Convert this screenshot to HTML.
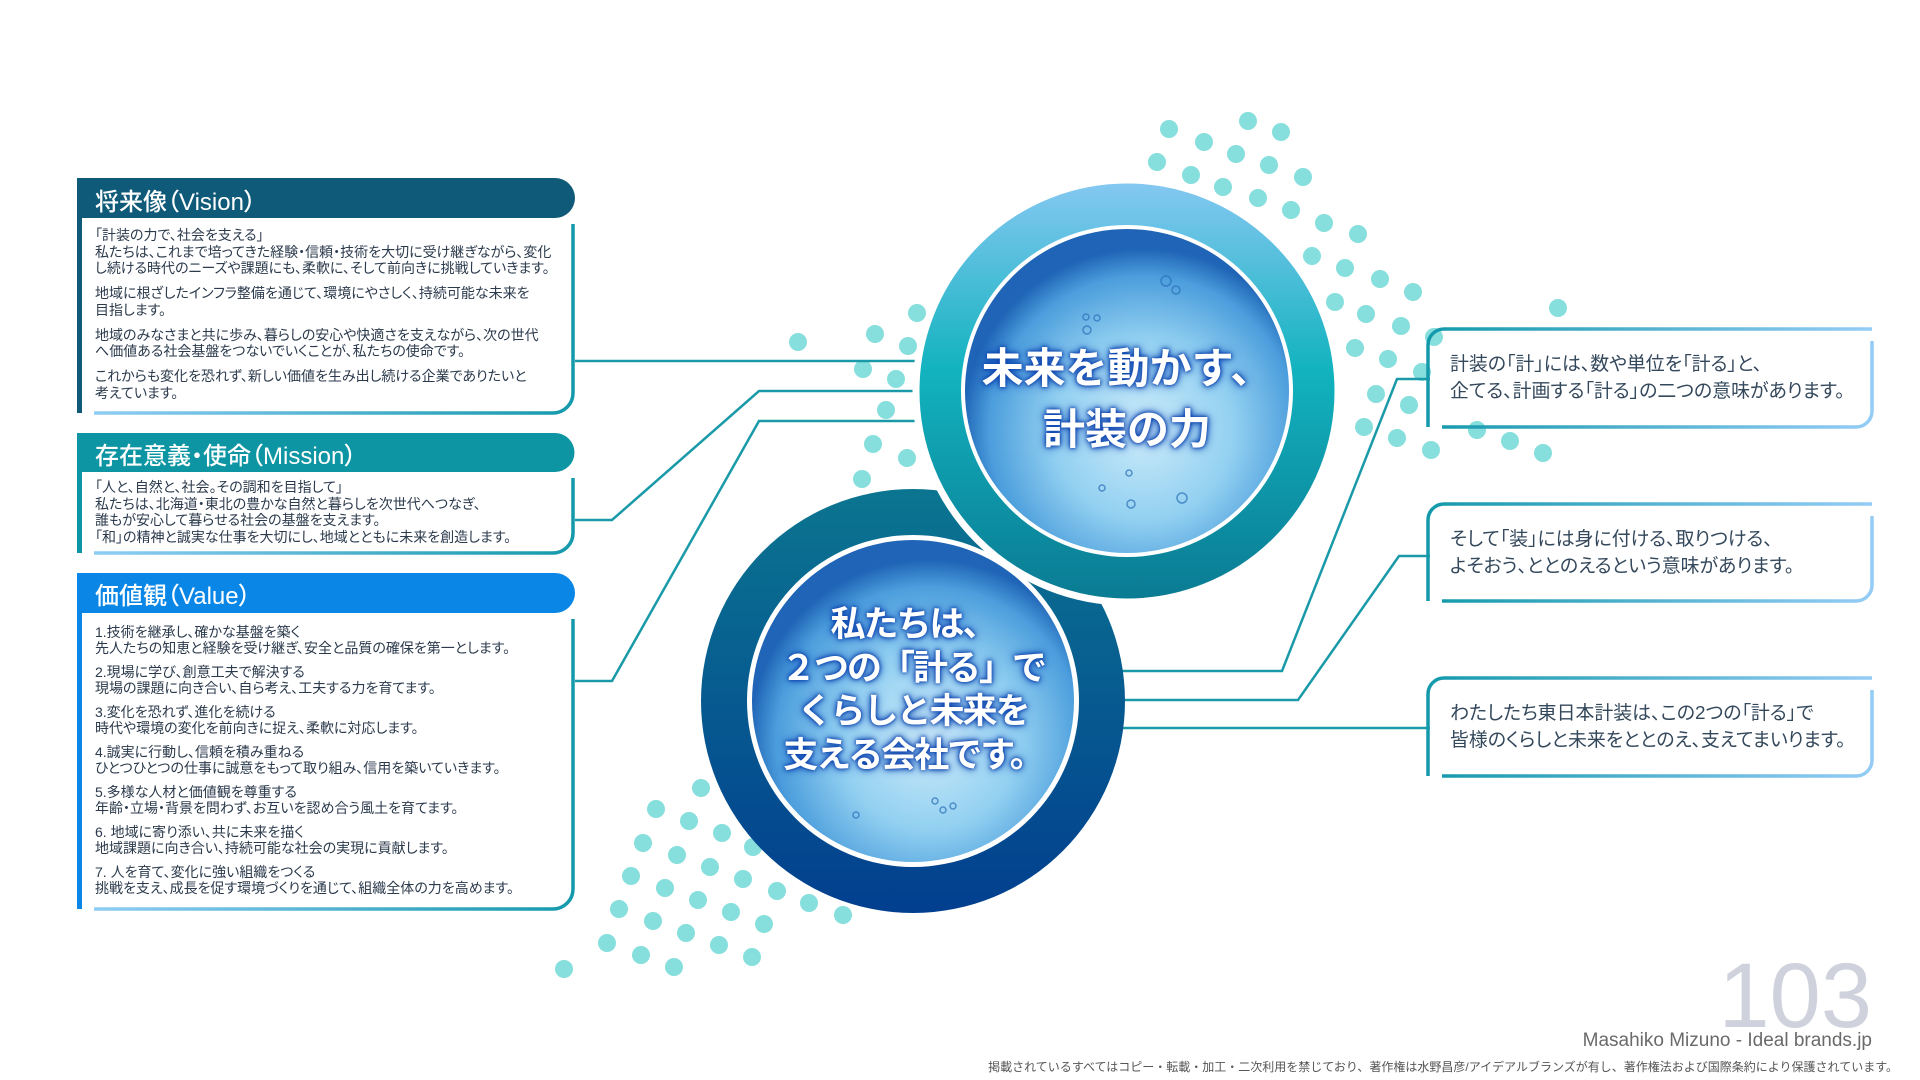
<!DOCTYPE html>
<html><head><meta charset="utf-8"><style>
html,body{margin:0;padding:0;background:#fff}
#p{position:relative;width:1920px;height:1080px;overflow:hidden;font-family:"Liberation Sans","Noto Sans CJK JP",sans-serif}
svg{position:absolute;left:0;top:0}
.t{position:absolute;white-space:nowrap;color:#2b3a4c;font-feature-settings:"palt"}
.h{position:absolute;color:#fff;font-size:24px;font-weight:500;white-space:nowrap;font-feature-settings:"palt"}
.b{font-size:14px;line-height:16.7px}
.b p{margin:0 0 8px 0}
.r{font-size:18.9px;line-height:27px;color:#34485c}
.c{position:absolute;color:#fff;font-weight:bold;text-align:center;white-space:nowrap;text-shadow:0 0 6px #0a3fa8,0 0 10px #1454c0,0 0 3px #0a3fa8}
</style></head><body><div id="p">
<svg width="1920" height="1080" viewBox="0 0 1920 1080">
<defs>
<linearGradient id="lg" gradientUnits="userSpaceOnUse" x1="94" y1="0" x2="573" y2="0"><stop offset="0" stop-color="#8fcdf3"/><stop offset="1" stop-color="#1499ab"/></linearGradient>
<linearGradient id="rg" gradientUnits="userSpaceOnUse" x1="1428" y1="0" x2="1872" y2="0"><stop offset="0" stop-color="#1499ab"/><stop offset="1" stop-color="#94ccf5"/></linearGradient>
<linearGradient id="ring1" x1="0" y1="0" x2="0" y2="1"><stop offset="0" stop-color="#86c8f2"/><stop offset="0.45" stop-color="#12b3bf"/><stop offset="1" stop-color="#0a7a92"/></linearGradient>
<linearGradient id="ring2" x1="0" y1="0" x2="0" y2="1"><stop offset="0" stop-color="#0b7590"/><stop offset="1" stop-color="#023f8f"/></linearGradient>
<radialGradient id="bub" cx="0.55" cy="0.62" r="0.56"><stop offset="0" stop-color="#cdebf9"/><stop offset="0.5" stop-color="#92d0f1"/><stop offset="0.85" stop-color="#4b9ddc"/><stop offset="1" stop-color="#1f64b6"/></radialGradient>
</defs>
<g fill="#86dfdc">
<circle cx="701" cy="788" r="9"/><circle cx="656" cy="809" r="9"/><circle cx="689" cy="821" r="9"/><circle cx="722" cy="833" r="9"/><circle cx="753" cy="847" r="9"/>
<circle cx="643" cy="843" r="9"/><circle cx="677" cy="855" r="9"/><circle cx="710" cy="867" r="9"/><circle cx="743" cy="879" r="9"/><circle cx="777" cy="891" r="9"/><circle cx="809" cy="903" r="9"/><circle cx="843" cy="915" r="9"/>
<circle cx="631" cy="876" r="9"/><circle cx="665" cy="888" r="9"/><circle cx="698" cy="900" r="9"/><circle cx="731" cy="912" r="9"/><circle cx="764" cy="924" r="9"/>
<circle cx="619" cy="909" r="9"/><circle cx="653" cy="921" r="9"/><circle cx="686" cy="933" r="9"/><circle cx="719" cy="945" r="9"/><circle cx="752" cy="957" r="9"/>
<circle cx="607" cy="943" r="9"/><circle cx="641" cy="955" r="9"/><circle cx="674" cy="967" r="9"/><circle cx="564" cy="969" r="9"/>
<circle cx="1169" cy="129" r="9"/><circle cx="1204" cy="142" r="9"/><circle cx="1248" cy="121" r="9"/><circle cx="1281" cy="132" r="9"/>
<circle cx="1157" cy="162" r="9"/><circle cx="1191" cy="175" r="9"/><circle cx="1236" cy="154" r="9"/><circle cx="1269" cy="165" r="9"/><circle cx="1303" cy="177" r="9"/>
<circle cx="1223" cy="187" r="9"/><circle cx="1258" cy="198" r="9"/><circle cx="1291" cy="210" r="9"/><circle cx="1324" cy="223" r="9"/><circle cx="1358" cy="234" r="9"/>
<circle cx="1312" cy="256" r="9"/><circle cx="1345" cy="268" r="9"/><circle cx="1380" cy="279" r="9"/><circle cx="1413" cy="292" r="9"/>
<circle cx="1335" cy="302" r="9"/><circle cx="1366" cy="314" r="9"/><circle cx="1401" cy="326" r="9"/><circle cx="1434" cy="337" r="9"/>
<circle cx="1355" cy="348" r="9"/><circle cx="1388" cy="359" r="9"/><circle cx="1422" cy="372" r="9"/>
<circle cx="1376" cy="394" r="9"/><circle cx="1409" cy="405" r="9"/>
<circle cx="1364" cy="427" r="9"/><circle cx="1397" cy="438" r="9"/><circle cx="1431" cy="450" r="9"/>
<circle cx="1558" cy="308" r="9"/><circle cx="1543" cy="453" r="9"/><circle cx="1510" cy="441" r="9"/><circle cx="1477" cy="430" r="9"/>
<circle cx="798" cy="342" r="9"/><circle cx="875" cy="334" r="9"/><circle cx="917" cy="313" r="9"/><circle cx="908" cy="346" r="9"/><circle cx="863" cy="369" r="9"/><circle cx="896" cy="379" r="9"/><circle cx="886" cy="410" r="9"/><circle cx="873" cy="444" r="9"/><circle cx="907" cy="458" r="9"/><circle cx="862" cy="479" r="9"/>
</g>
<g fill="none" stroke="#1a9aa8" stroke-width="2.5">
<path d="M575 361 H935"/>
<path d="M575 520 H612 L759 391 H935"/>
<path d="M575 681 H612 L759 421 H935"/>
<path d="M1110 671 H1282 L1397 379 H1430"/>
<path d="M1110 700 H1298 L1399 556 H1430"/>
<path d="M1110 728 H1430"/>
</g>
<path d="M77 178 H555 A20 20 0 0 1 555 218 H77 Z" fill="#0f5a78"/>
<rect x="77" y="218" width="5" height="195" fill="#0f5a78"/>
<path d="M573 224 V393 A20 20 0 0 1 553 413 H94" fill="none" stroke="url(#lg)" stroke-width="3.5"/>
<path d="M77 433 H555 A19.5 19.5 0 0 1 555 472 H77 Z" fill="#0d95a3"/>
<rect x="77" y="472" width="5" height="81" fill="#0d95a3"/>
<path d="M573 478 V533 A20 20 0 0 1 553 553 H94" fill="none" stroke="url(#lg)" stroke-width="3.5"/>
<path d="M77 573 H555 A20 20 0 0 1 555 613 H77 Z" fill="#0a87e6"/>
<rect x="77" y="613" width="5" height="296" fill="#0a87e6"/>
<path d="M573 619 V889 A20 20 0 0 1 553 909 H94" fill="none" stroke="url(#lg)" stroke-width="3.5"/>
<g fill="none" stroke="url(#rg)" stroke-width="3.5">
<path d="M1428 427 V345 A16 16 0 0 1 1444 329 H1872"/><path d="M1872 341 V411 A16 16 0 0 1 1856 427 H1442"/>
<path d="M1428 601 V520 A16 16 0 0 1 1444 504 H1872"/><path d="M1872 516 V585 A16 16 0 0 1 1856 601 H1442"/>
<path d="M1428 776 V694 A16 16 0 0 1 1444 678 H1872"/><path d="M1872 690 V760 A16 16 0 0 1 1856 776 H1442"/>
</g>
<circle cx="913" cy="701" r="212" fill="url(#ring2)"/>
<circle cx="1127" cy="391" r="211" fill="url(#ring1)" stroke="#fff" stroke-width="7"/>
<circle cx="1127" cy="391" r="166" fill="#fff"/>
<circle cx="1127" cy="391" r="162" fill="url(#bub)"/>
<circle cx="913" cy="701" r="166" fill="#fff"/>
<circle cx="913" cy="701" r="161" fill="url(#bub)"/>
<g fill="none" stroke="#2a6fb8" stroke-width="1.5" opacity="0.7">
<circle cx="1166" cy="281" r="5"/><circle cx="1176" cy="290" r="4"/><circle cx="1097" cy="318" r="3"/><circle cx="1086" cy="317" r="3"/><circle cx="1087" cy="330" r="4"/>
<circle cx="1131" cy="504" r="4"/><circle cx="1102" cy="488" r="3"/><circle cx="1129" cy="473" r="3"/><circle cx="1182" cy="498" r="5"/>
<circle cx="953" cy="806" r="3"/><circle cx="935" cy="801" r="3"/><circle cx="943" cy="810" r="3"/><circle cx="856" cy="815" r="3"/>
</g>
</svg>

<div class="h" style="left:95px;top:182px">将来像（Vision）</div>
<div class="t b" style="left:95px;top:227px">
<p>「計装の力で、社会を支える」<br>私たちは、これまで培ってきた経験・信頼・技術を大切に受け継ぎながら、変化<br>し続ける時代のニーズや課題にも、柔軟に、そして前向きに挑戦していきます。</p>
<p>地域に根ざしたインフラ整備を通じて、環境にやさしく、持続可能な未来を<br>目指します。</p>
<p>地域のみなさまと共に歩み、暮らしの安心や快適さを支えながら、次の世代<br>へ価値ある社会基盤をつないでいくことが、私たちの使命です。</p>
<p>これからも変化を恐れず、新しい価値を生み出し続ける企業でありたいと<br>考えています。</p>
</div>

<div class="h" style="left:95px;top:436px">存在意義・使命（Mission）</div>
<div class="t b" style="left:95px;top:479px">「人と、自然と、社会。その調和を目指して」<br>私たちは、北海道・東北の豊かな自然と暮らしを次世代へつなぎ、<br>誰もが安心して暮らせる社会の基盤を支えます。<br>「和」の精神と誠実な仕事を大切にし、地域とともに未来を創造します。</div>

<div class="h" style="left:95px;top:576px">価値観（Value）</div>
<div class="t b" style="left:95px;top:624px;line-height:16px">
<p>1.技術を継承し、確かな基盤を築く<br>先人たちの知恵と経験を受け継ぎ、安全と品質の確保を第一とします。</p>
<p>2.現場に学び、創意工夫で解決する<br>現場の課題に向き合い、自ら考え、工夫する力を育てます。</p>
<p>3.変化を恐れず、進化を続ける<br>時代や環境の変化を前向きに捉え、柔軟に対応します。</p>
<p>4.誠実に行動し、信頼を積み重ねる<br>ひとつひとつの仕事に誠意をもって取り組み、信用を築いていきます。</p>
<p>5.多様な人材と価値観を尊重する<br>年齢・立場・背景を問わず、お互いを認め合う風土を育てます。</p>
<p>6. 地域に寄り添い、共に未来を描く<br>地域課題に向き合い、持続可能な社会の実現に貢献します。</p>
<p>7. 人を育て、変化に強い組織をつくる<br>挑戦を支え、成長を促す環境づくりを通じて、組織全体の力を高めます。</p>
</div>

<div class="t r" style="left:1450px;top:351px">計装の「計」には、数や単位を「計る」と、<br>企てる、計画する「計る」の二つの意味があります。</div>
<div class="t r" style="left:1450px;top:526px">そして「装」には身に付ける、取りつける、<br>よそおう、ととのえるという意味があります。</div>
<div class="t r" style="left:1450px;top:700px">わたしたち東日本計装は、この2つの「計る」で<br>皆様のくらしと未来をととのえ、支えてまいります。</div>

<div class="c" style="left:927px;width:400px;top:338px;font-size:42px;line-height:61px">未来を動かす、<br>計装の力</div>
<div class="c" style="left:713px;width:400px;top:603px;font-size:35px;line-height:43.5px;letter-spacing:-2px">私たちは、<br>２つの「計る」で<br>くらしと未来を<br>支える会社です。</div>

<div style="position:absolute;right:48px;top:950px;font-size:92px;line-height:92px;color:#cfd1dc;font-family:'Liberation Sans',sans-serif">103</div>
<div style="position:absolute;right:48px;top:1030px;font-size:19px;color:#6a6a6a;white-space:nowrap">Masahiko Mizuno - Ideal brands.jp</div>
<div style="position:absolute;right:22px;top:1058px;font-size:12px;color:#555;white-space:nowrap">掲載されているすべてはコピー・転載・加工・二次利用を禁じており、著作権は水野昌彦/アイデアルブランズが有し、著作権法および国際条約により保護されています。</div>
</div></body></html>
